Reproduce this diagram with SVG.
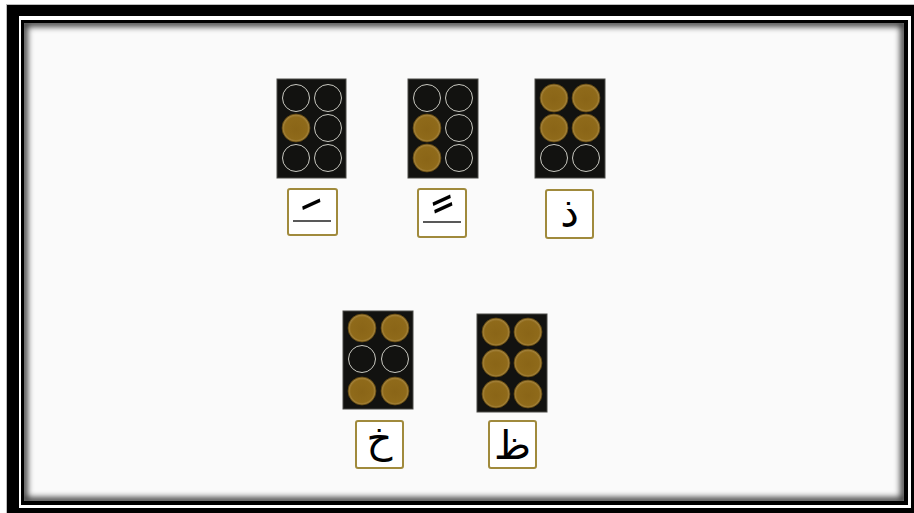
<svg xmlns="http://www.w3.org/2000/svg" width="914" height="513" viewBox="0 0 914 513">
  <defs>
    <radialGradient id="gold" cx="50%" cy="50%" r="50%" fx="50%" fy="55%">
      <stop offset="0" stop-color="#8a6517"/>
      <stop offset="0.8" stop-color="#8f6a1a"/>
      <stop offset="0.93" stop-color="#a3813a"/>
      <stop offset="1" stop-color="#6a4e12"/>
    </radialGradient>
    <filter id="blur" x="-5%" y="-5%" width="110%" height="110%">
      <feGaussianBlur stdDeviation="3"/>
    </filter>
    <clipPath id="content">
      <rect x="24" y="23" width="880" height="478"/>
    </clipPath>
    <clipPath id="clip1">
      <rect x="289" y="190" width="47" height="27"/>
    </clipPath>
    <clipPath id="clip2">
      <rect x="419" y="190" width="46" height="27"/>
    </clipPath>
    <style>
      .cell{fill:#121210;stroke:#4a4a46;stroke-width:1}
      .dot{fill:url(#gold);stroke:#6e5214;stroke-width:0.6}
      .empty{fill:none;stroke:#c8c8c0;stroke-width:1}
      .box{fill:#ffffff;stroke:#a08a3c;stroke-width:2}
      .glyph{font-family:"DejaVu Sans",sans-serif;fill:#000;text-anchor:middle}
      .base{stroke:#222;stroke-width:1.3}
    </style>
  </defs>

  <!-- background & frame -->
  <rect x="0" y="0" width="914" height="513" fill="#ffffff"/>
  <path d="M7 5 H930 V530 H7 Z M19 16 V508 H911 V16 Z" fill="#000" fill-rule="evenodd"/>
  <rect x="6.5" y="4.5" width="920" height="520" fill="none" stroke="#bdbdbd" stroke-width="1"/>
  <rect x="21" y="20" width="887" height="485" fill="#000"/>
  <rect x="24" y="23" width="880" height="478" fill="#fafafa"/>
  <g clip-path="url(#content)">
    <rect x="24" y="23" width="880" height="478" fill="none" stroke="#000" stroke-width="7" filter="url(#blur)" opacity="0.8"/>
  </g>

  <!-- top row -->
  <g id="cell-fatha">
    <rect class="cell" x="277" y="79" width="69" height="99"/>
    <circle class="empty" cx="296" cy="98" r="13.5"/>
    <circle class="empty" cx="328" cy="98" r="13.5"/>
    <circle class="dot" cx="296" cy="128" r="14"/>
    <circle class="empty" cx="328" cy="128" r="13.5"/>
    <circle class="empty" cx="296" cy="158" r="13.5"/>
    <circle class="empty" cx="328" cy="158" r="13.5"/>
    <rect class="box" x="288" y="189" width="49" height="46" rx="2"/>
    <g clip-path="url(#clip1)">
      <text class="glyph" x="312" y="247" font-size="66" transform="rotate(-12 312 208)">ـَ</text>
    </g>
    <line class="base" x1="293" y1="221" x2="331" y2="221"/>
  </g>

  <g id="cell-fathatan">
    <rect class="cell" x="408" y="79" width="70" height="99"/>
    <circle class="empty" cx="427" cy="98" r="13.5"/>
    <circle class="empty" cx="459" cy="98" r="13.5"/>
    <circle class="dot" cx="427" cy="128" r="14"/>
    <circle class="empty" cx="459" cy="128" r="13.5"/>
    <circle class="dot" cx="427" cy="158" r="14"/>
    <circle class="empty" cx="459" cy="158" r="13.5"/>
    <rect class="box" x="418" y="189" width="48" height="48" rx="2"/>
    <g clip-path="url(#clip2)">
      <text class="glyph" x="443" y="251" font-size="66" transform="rotate(-12 442 206)">ـً</text>
    </g>
    <line class="base" x1="423" y1="222" x2="461" y2="222"/>
  </g>

  <g id="cell-dhal">
    <rect class="cell" x="535" y="79" width="70" height="99"/>
    <circle class="dot" cx="554" cy="98" r="14"/>
    <circle class="dot" cx="586" cy="98" r="14"/>
    <circle class="dot" cx="554" cy="128" r="14"/>
    <circle class="dot" cx="586" cy="128" r="14"/>
    <circle class="empty" cx="554" cy="158" r="13.5"/>
    <circle class="empty" cx="586" cy="158" r="13.5"/>
    <rect class="box" x="546" y="190" width="47" height="48" rx="2"/>
    <text class="glyph" x="569.5" y="227" font-size="42">ذ</text>
  </g>

  <!-- bottom row -->
  <g id="cell-khah">
    <rect class="cell" x="343" y="311" width="70" height="98"/>
    <circle class="dot" cx="362" cy="328" r="14"/>
    <circle class="dot" cx="395" cy="328" r="14"/>
    <circle class="empty" cx="362" cy="359" r="13.5"/>
    <circle class="empty" cx="395" cy="359" r="13.5"/>
    <circle class="dot" cx="362" cy="391" r="14"/>
    <circle class="dot" cx="395" cy="391" r="14"/>
    <rect class="box" x="356" y="421" width="47" height="47" rx="2"/>
    <text class="glyph" x="379.5" y="452" font-size="40">خ</text>
  </g>

  <g id="cell-zah">
    <rect class="cell" x="477" y="314" width="70" height="98"/>
    <circle class="dot" cx="496" cy="332" r="14"/>
    <circle class="dot" cx="528" cy="332" r="14"/>
    <circle class="dot" cx="496" cy="363" r="14"/>
    <circle class="dot" cx="528" cy="363" r="14"/>
    <circle class="dot" cx="496" cy="394" r="14"/>
    <circle class="dot" cx="528" cy="394" r="14"/>
    <rect class="box" x="489" y="421" width="47" height="47" rx="2"/>
    <text class="glyph" x="512.5" y="459" font-size="40">ظ</text>
  </g>

  <g id="connectors"/>
</svg>
